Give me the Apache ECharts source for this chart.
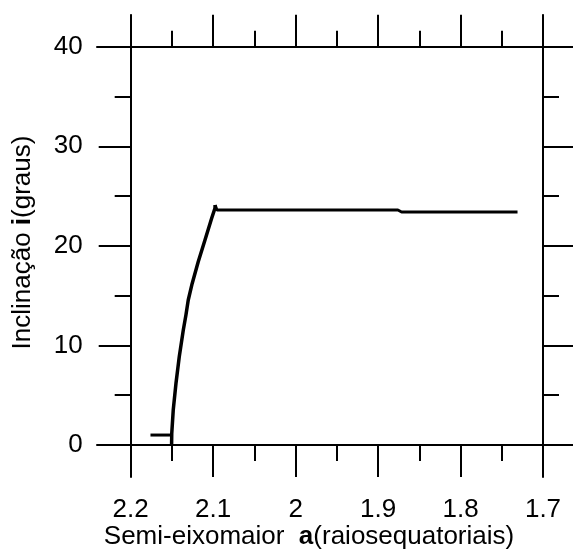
<!DOCTYPE html>
<html>
<head>
<meta charset="utf-8">
<script src="https://cdn.jsdelivr.net/npm/echarts@6/dist/echarts.min.js"></script>
<style>
  html, body { margin: 0; padding: 0; background: #fff; }
  #chart { width: 573px; height: 551px; }
</style>
</head>
<body>
<div id="chart"></div>
<script>
// Semi-major axis (equatorial radii) and inclination (degrees)
const semiEixoDegrau = [2.176, 2.150];
const inclDegrau = [1.0, 1.0];

// Rising branch of the evolution
const semiEixoSubida = [2.1504, 2.1502, 2.1484, 2.1451, 2.1411, 2.1362, 2.1330, 2.1302, 2.1255, 2.1181, 2.1099, 2.1018, 2.0978, 2.0976];
const inclSubida = [0.0, 1.17, 3.51, 6.18, 8.87, 11.55, 13.06, 14.56, 16.2, 18.41, 20.59, 22.77, 23.77, 24.1];

// Plateau after capture
const semiEixoPlato = [2.0976, 2.0954, 1.8760, 1.8740, 1.8715, 1.7309];
const inclPlato = [24.1, 23.6, 23.6, 23.75, 23.4, 23.4];

// Tick values
const ticksA = [2.2, 2.1, 2.0, 1.9, 1.8, 1.7];
const ticksAMenores = [2.15, 2.05, 1.95, 1.85, 1.75];
const ticksI = [0, 10, 20, 30, 40];
const ticksIMenores = [5, 15, 25, 35];

const FONTE = "'Liberation Sans', Arial, sans-serif";
const TAM = 26;
const PRETO = '#000';
const MAIOR = 32, MENOR = 16, LARG = 2;

function pares(xs, ys) { return xs.map((x, k) => [x, ys[k]]); }

// Horizontal axes (top and bottom) live in grid 0, whose edges extend past the plot
// by one tick length; vertical axes live in grid 1, extended up and down the same way.
const aMin = 1.7 - 30 / 825, aMax = 2.2 + 33.7 / 825;
const iMin = -32 / 9.9575, iMax = 40 + 31.7 / 9.9575;

function eixoX(posicao, ticks, comprimento, rotulos) {
  return {
    gridIndex: 0, type: 'value', inverse: true, min: aMin, max: aMax, position: posicao,
    axisLine: { show: comprimento === MAIOR, lineStyle: { color: PRETO, width: LARG } },
    axisTick: { show: true, inside: false, length: comprimento, customValues: ticks,
                lineStyle: { color: PRETO, width: LARG } },
    axisLabel: rotulos ? { show: true, customValues: ticksA, margin: 52, color: PRETO,
                           fontSize: TAM, fontFamily: FONTE } : { show: false },
    splitLine: { show: false }
  };
}
function eixoY(posicao, ticks, comprimento, rotulos) {
  return {
    gridIndex: 1, type: 'value', min: iMin, max: iMax, position: posicao,
    axisLine: { show: comprimento === MAIOR, lineStyle: { color: PRETO, width: LARG } },
    axisTick: { show: true, inside: false, length: comprimento, customValues: ticks,
                lineStyle: { color: PRETO, width: LARG } },
    axisLabel: rotulos ? { show: true, customValues: ticksI, margin: 48, color: PRETO,
                           fontSize: TAM, fontFamily: FONTE } : { show: false },
    splitLine: { show: false }
  };
}

const linha = { type: 'line', xAxisIndex: 0, yAxisIndex: 0, showSymbol: false, clip: false };

const option = {
  animation: false,
  backgroundColor: '#fff',
  grid: [
    { left: 97, right: 0, top: 46.7, bottom: 106 },
    { left: 130.7, right: 30, top: 15, bottom: 74 }
  ],
  xAxis: [
    eixoX('bottom', ticksA, MAIOR, true),
    eixoX('bottom', ticksAMenores, MENOR, false),
    eixoX('top', ticksA, MAIOR, false),
    eixoX('top', ticksAMenores, MENOR, false),
    { gridIndex: 1, type: 'value', show: false, min: 0, max: 1 }
  ],
  yAxis: [
    { gridIndex: 0, type: 'value', min: 0, max: 40, show: false },
    eixoY('left', ticksI, MAIOR, true),
    eixoY('left', ticksIMenores, MENOR, false),
    eixoY('right', ticksI, MAIOR, false),
    eixoY('right', ticksIMenores, MENOR, false)
  ],
  series: [
    Object.assign({}, linha, { data: pares(semiEixoDegrau, inclDegrau),
      lineStyle: { color: PRETO, width: 3 } }),
    Object.assign({}, linha, { data: pares(semiEixoSubida, inclSubida),
      lineStyle: { color: PRETO, width: 3.5, join: 'round' } }),
    Object.assign({}, linha, { data: pares(semiEixoPlato, inclPlato),
      lineStyle: { color: PRETO, width: 3 } })
  ],
  graphic: [
    {
      type: 'text', x: 309, y: 537,
      style: {
        text: '{n|Semi-eixomaior  }{b|a}{n|(raiosequatoriais)}',
        align: 'center', verticalAlign: 'middle', fill: PRETO,
        rich: {
          n: { fontSize: TAM, fontFamily: FONTE, fill: PRETO },
          b: { fontSize: TAM, fontFamily: FONTE, fontWeight: 'bold', fill: PRETO }
        }
      }
    },
    {
      type: 'text', x: 23, y: 242.5, rotation: Math.PI / 2,
      style: {
        text: '{n|Inclinação }{b|i}{n|(graus)}',
        align: 'center', verticalAlign: 'middle', fill: PRETO,
        rich: {
          n: { fontSize: TAM, fontFamily: FONTE, fill: PRETO },
          b: { fontSize: TAM, fontFamily: FONTE, fontWeight: 'bold', fill: PRETO }
        }
      }
    }
  ]
};

const chart = echarts.init(document.getElementById('chart'), null, { renderer: 'canvas' });
chart.setOption(option);
</script>
</body>
</html>
